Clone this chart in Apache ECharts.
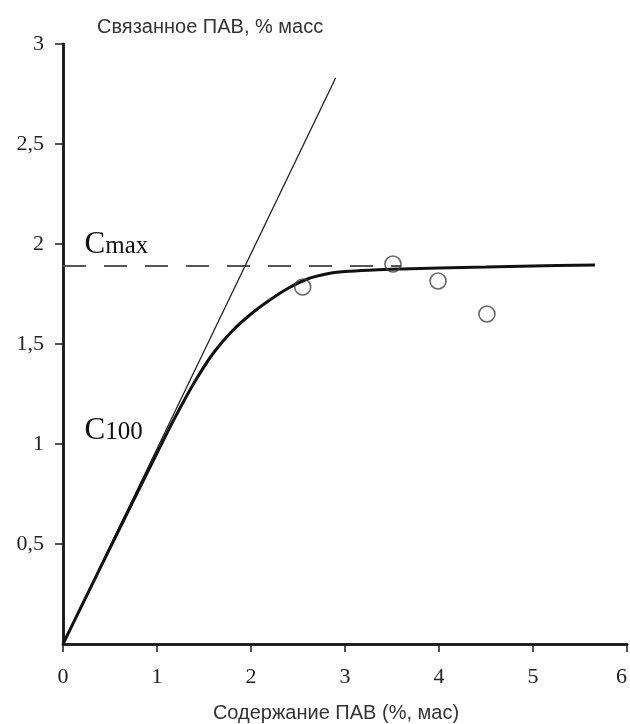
<!DOCTYPE html>
<html>
<head>
<meta charset="utf-8">
<script src="https://cdn.jsdelivr.net/npm/echarts@6/dist/echarts.min.js"></script>
<style>
  html, body { margin: 0; padding: 0; background: #fff; }
  #chart { width: 630px; height: 724px; }
</style>
</head>
<body>
<div id="chart"></div>
<script>
// Adsorption curve: bound surfactant vs. surfactant content
const xTicks = [0, 1, 2, 3, 4, 5, 6];
const yTickLabels = ['0', '0,5', '1', '1,5', '2', '2,5', '3'];

// fitted saturation curve
const curveX = [0, 0.5, 1.0, 1.2, 1.4, 1.6, 1.8, 2.0, 2.2, 2.4, 2.6, 2.8, 3.0, 3.3, 3.6, 4.0, 4.5, 5.0, 5.66];
const curveY = [0, 0.48, 0.955, 1.14, 1.31, 1.455, 1.565, 1.65, 1.72, 1.78, 1.825, 1.85, 1.862, 1.87, 1.875, 1.88, 1.885, 1.89, 1.895];

// initial-slope tangent
const tangentX = [0, 2.9];
const tangentY = [0, 2.83];

// saturation level Cmax
const cmaxLevel = 1.89;
const cmaxX = [0, 3.6];

// measured points
const pointsX = [2.55, 3.51, 3.99, 4.51];
const pointsY = [1.785, 1.90, 1.815, 1.65];

// text annotations
const noteNames = ['max', '100'];
const noteX = [0.23, 0.23];
const noteY = [2.0, 1.07];

const zip = (xs, ys) => xs.map((x, i) => [x, ys[i]]);

const serif = 'Liberation Serif';
const sans = 'Liberation Sans';
const ink = '#1a1a1a';

const chart = echarts.init(document.getElementById('chart'), null, { renderer: 'canvas' });

chart.setOption({
  animation: false,
  backgroundColor: '#fff',
  grid: { left: 63, right: 3, top: 44, bottom: 80, containLabel: false, outerBoundsMode: 'none' },
  xAxis: [
    {
      type: 'value', min: 0, max: 6, interval: 1,
      name: 'Содержание ПАВ (%, мас)',
      nameLocation: 'middle', nameGap: 59,
      nameTextStyle: { fontFamily: sans, fontSize: 20, color: '#333', padding: [0, 18, 0, 0] },
      axisLine: { show: true, onZero: false, lineStyle: { color: ink, width: 2.5 } },
      axisTick: { show: true, inside: false, length: 8, lineStyle: { color: ink, width: 1.5 } },
      axisLabel: {
        margin: 22, fontFamily: serif, fontSize: 22, color: '#222',
        alignMaxLabel: 'right',
        formatter: v => String(xTicks[Math.round(v)])
      },
      splitLine: { show: false }
    },
    {
      type: 'value', min: 0, max: 6, position: 'top',
      axisLine: { show: true, lineStyle: { color: ink, width: 2.5 } },
      axisTick: { show: false }, axisLabel: { show: false }, splitLine: { show: false }
    }
  ],
  yAxis: [
    {
      type: 'value', min: 0, max: 3, interval: 0.5,
      name: 'Связанное ПАВ, % масс',
      nameLocation: 'end', nameGap: 17,
      nameTextStyle: {
        fontFamily: sans, fontSize: 20, color: '#333',
        align: 'left', verticalAlign: 'middle', padding: [0, 0, 0, 34]
      },
      axisLine: { show: true, onZero: false, lineStyle: { color: ink, width: 2.5 } },
      axisTick: { show: true, inside: false, length: 8, lineStyle: { color: ink, width: 1.5 } },
      axisLabel: {
        margin: 19, fontFamily: serif, fontSize: 22, color: '#222',
        showMinLabel: false,
        formatter: v => yTickLabels[Math.round(v / 0.5)]
      },
      splitLine: { show: false }
    },
    {
      type: 'value', min: 0, max: 3, position: 'right',
      axisLine: { show: true, lineStyle: { color: ink, width: 2.5 } },
      axisTick: { show: false }, axisLabel: { show: false }, splitLine: { show: false }
    }
  ],
  series: [
    {
      name: 'Cmax', type: 'line', showSymbol: false, silent: true,
      data: cmaxX.map(x => [x, cmaxLevel]),
      lineStyle: { color: '#555', width: 2, type: [23, 18] },
      z: 2
    },
    {
      name: 'tangent', type: 'line', showSymbol: false, silent: true,
      data: zip(tangentX, tangentY),
      lineStyle: { color: '#222', width: 1.3 },
      z: 3
    },
    {
      name: 'curve', type: 'line', showSymbol: false, silent: true,
      smooth: 0.35,
      data: zip(curveX, curveY),
      lineStyle: { color: '#111', width: 3 },
      z: 4
    },
    {
      name: 'points', type: 'scatter', symbol: 'circle', symbolSize: 16,
      data: zip(pointsX, pointsY),
      itemStyle: { color: 'rgba(255,255,255,0)', borderColor: '#444', borderWidth: 1.6 },
      z: 5
    },
    {
      name: 'notes', type: 'scatter', symbolSize: 0, silent: true,
      data: noteX.map((x, i) => ({ value: [x, noteY[i]], sub: noteNames[i] })),
      itemStyle: { opacity: 1 },
      label: {
        show: true, position: 'right', distance: 0, color: '#111',
        formatter: p => '{c|C}{s|' + p.data.sub + '}',
        rich: {
          c: { fontFamily: serif, fontSize: 31, color: '#111', lineHeight: 32, verticalAlign: 'bottom' },
          s: { fontFamily: serif, fontSize: 25, color: '#111', lineHeight: 32, verticalAlign: 'bottom', padding: [0, 0, 1, 0] }
        }
      },
      z: 6
    }
  ]
});
</script>
</body>
</html>
